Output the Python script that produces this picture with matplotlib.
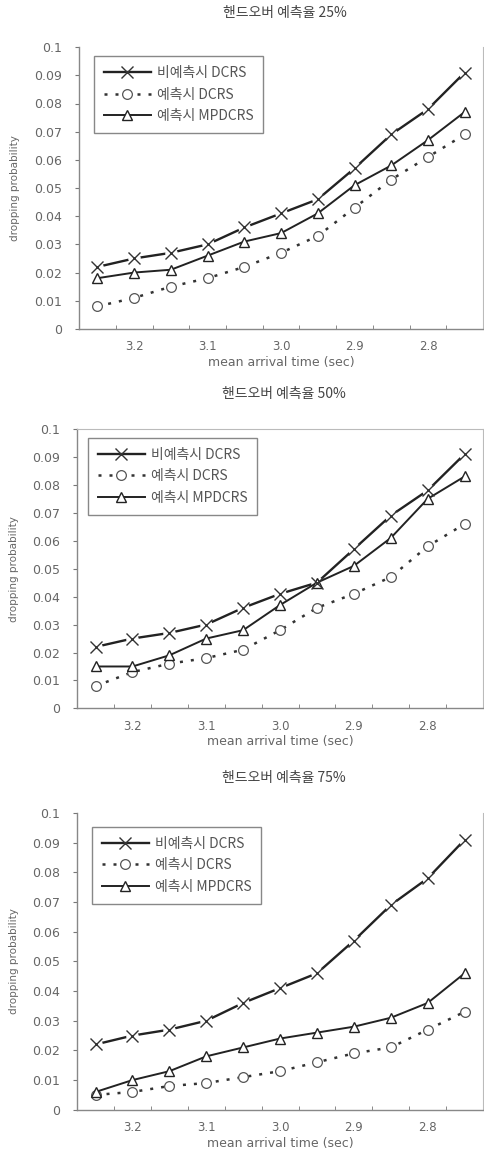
import numpy as np
import matplotlib
matplotlib.use("Agg")
import matplotlib.pyplot as plt
from matplotlib.lines import Line2D
from matplotlib.ticker import FixedLocator, FormatStrFormatter

plt.rcParams['font.family'] = ['DejaVu Sans', 'Noto Sans CJK KR']

# mean arrival time (sec), one value per point
arrival = [3.25, 3.2, 3.15, 3.1, 3.05, 3.0, 2.95, 2.9, 2.85, 2.8, 2.75]
x_ticks = [3.2, 3.1, 3.0, 2.9, 2.8]
y_ticks = [0, 0.01, 0.02, 0.03, 0.04, 0.05, 0.06, 0.07, 0.08, 0.09, 0.1]
y_tick_labels = ['0', '0.01', '0.02', '0.03', '0.04', '0.05', '0.06', '0.07', '0.08', '0.09', '0.1']

titles = ['핸드오버 예측율 25%', '핸드오버 예측율 50%', '핸드오버 예측율 75%']
series_names = ['비예측시 DCRS', '예측시 DCRS', '예측시 MPDCRS']

# handover prediction 25%
no_pred_25 = [0.022, 0.025, 0.027, 0.030, 0.036, 0.041, 0.046, 0.057, 0.069, 0.078, 0.091]
pred_25 = [0.008, 0.011, 0.015, 0.018, 0.022, 0.027, 0.033, 0.043, 0.053, 0.061, 0.069]
mp_25 = [0.018, 0.020, 0.021, 0.026, 0.031, 0.034, 0.041, 0.051, 0.058, 0.067, 0.077]

# handover prediction 50%
no_pred_50 = [0.022, 0.025, 0.027, 0.030, 0.036, 0.041, 0.045, 0.057, 0.069, 0.078, 0.091]
pred_50 = [0.008, 0.013, 0.016, 0.018, 0.021, 0.028, 0.036, 0.041, 0.047, 0.058, 0.066]
mp_50 = [0.015, 0.015, 0.019, 0.025, 0.028, 0.037, 0.045, 0.051, 0.061, 0.075, 0.083]

# handover prediction 75%
no_pred_75 = [0.022, 0.025, 0.027, 0.030, 0.036, 0.041, 0.046, 0.057, 0.069, 0.078, 0.091]
pred_75 = [0.005, 0.006, 0.008, 0.009, 0.011, 0.013, 0.016, 0.019, 0.021, 0.027, 0.033]
mp_75 = [0.006, 0.010, 0.013, 0.018, 0.021, 0.024, 0.026, 0.028, 0.031, 0.036, 0.046]

panels = [(no_pred_25, pred_25, mp_25),
          (no_pred_50, pred_50, mp_50),
          (no_pred_75, pred_75, mp_75)]

# axes rectangles (figure fraction) and legend anchors
rects = [[0.163, 0.714, 0.833, 0.245],
         [0.159, 0.384, 0.837, 0.243],
         [0.159, 0.035, 0.837, 0.258]]
leg_anchor = [(0.037, 0.968), (0.027, 0.968), (0.037, 0.953)]
top_frame = [False, True, False]

fig = plt.figure(figsize=(4.85, 11.5), dpi=100)
grey = '#666666'
step = 0.05
cjk = ['Noto Sans CJK KR', 'DejaVu Sans']

for i, (a, b, c) in enumerate(panels):
    ax = fig.add_axes(rects[i])

    # no-prediction DCRS: solid line broken around x markers
    ax.plot(arrival, a, color='#222222', lw=1.7, zorder=2)
    ax.plot(arrival, a, ls='', marker='o', ms=8, mfc='white', mec='white', zorder=3)
    ax.plot(arrival, a, ls='', marker='x', ms=8, mew=1.0, color='#333333', zorder=4)
    # prediction DCRS: dotted, open circles
    l2, = ax.plot(arrival, b, color='#333333', lw=1.8, ls=(0, (1.2, 3.2)),
                  marker='o', ms=7, mfc='white', mec='#555555', mew=0.9, zorder=3)
    # prediction MPDCRS: solid, open triangles
    l3, = ax.plot(arrival, c, color='#222222', lw=1.4, marker='^', ms=7,
                  mfc='white', mec='#222222', mew=1.0, zorder=3)

    h1 = Line2D([], [], color='#222222', lw=1.7, marker='x', ms=8, mew=1.0, mec='#333333')
    ax.legend([h1, l2, l3], series_names, loc='upper left', bbox_to_anchor=leg_anchor[i],
              frameon=True, fancybox=False, edgecolor='#888888', framealpha=1,
              handlelength=3.4, handletextpad=0.4, labelspacing=0.55, borderpad=0.7,
              borderaxespad=0, labelcolor='#555555', prop={'family': cjk, 'size': 10})

    ax.set_xlim(arrival[0] + step / 2, arrival[-1] - step / 2)
    ax.set_ylim(0, 0.1)
    ax.xaxis.set_major_locator(FixedLocator(x_ticks))
    ax.xaxis.set_major_formatter(FormatStrFormatter('%.1f'))
    bounds = [v + step / 2 for v in arrival] + [arrival[-1] - step / 2]
    ax.xaxis.set_minor_locator(FixedLocator(bounds))
    ax.tick_params(axis='x', which='major', length=0, pad=8, labelsize=8.5, labelcolor=grey)
    ax.tick_params(axis='x', which='minor', direction='in', length=3, color='#777777')
    ax.set_yticks(y_ticks)
    ax.set_yticklabels(y_tick_labels)
    ax.tick_params(axis='y', direction='out', length=3, labelsize=9, labelcolor=grey,
                   color='#777777', pad=9)

    for s in ['left', 'bottom']:
        ax.spines[s].set_color('#888888')
        ax.spines[s].set_linewidth(1.0)
    ax.spines['right'].set_color('#bbbbbb')
    ax.spines['right'].set_linewidth(0.8)
    ax.spines['top'].set_visible(top_frame[i])
    ax.spines['top'].set_color('#bbbbbb')
    ax.spines['top'].set_linewidth(0.8)

    ax.set_xlabel('mean arrival time (sec)', fontsize=9, color=grey, labelpad=2)
    ax.set_ylabel('dropping probability', fontsize=7.5, color=grey, labelpad=10)
    ax.set_title(titles[i], fontsize=10, color='#444444', pad=22, family=cjk, x=0.51)

fig.savefig('out.png', dpi=100)
